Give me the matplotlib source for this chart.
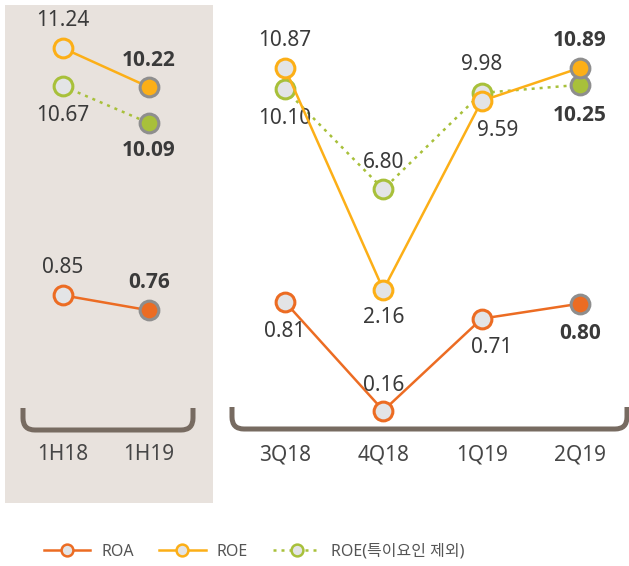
import matplotlib
matplotlib.use('Agg')
import matplotlib.pyplot as plt
import matplotlib.transforms as mtransforms
from matplotlib.path import Path
from matplotlib.patches import PathPatch, Rectangle
from matplotlib.lines import Line2D
from matplotlib import font_manager as fm

# ---------------- data ----------------
half_labels = ['1H18', '1H19']
half_roa = [0.85, 0.76]
half_roe = [11.24, 10.22]
half_roe_ex = [10.67, 10.09]

q_labels = ['3Q18', '4Q18', '1Q19', '2Q19']
q_roa = [0.81, 0.16, 0.71, 0.80]
q_roe = [10.87, 2.16, 9.59, 10.89]
q_roe_ex = [10.10, 6.80, 9.98, 10.25]

legend_labels = ['ROA', 'ROE', 'ROE(특이요인 제외)']

# ---------------- style ----------------
C_ROA = '#EC6C23'
C_ROE = '#FCAF17'
C_EX = '#A8C03A'
FILL = '#E3E4E6'
HL_EDGE = '#8E8E8E'
BG = '#E8E2DD'
BRACKET = '#776B61'
TXT = '#3A3A3A'
DOT = (0, (1.2, 2.0))

W, H = 629, 566
fig = plt.figure(figsize=(W / 100, H / 100), dpi=100)
px = mtransforms.Affine2D().scale(1 / W, -1 / H).translate(0, 1) + fig.transFigure

FONT = ['Noto Sans', 'Noto Sans CJK KR', 'DejaVu Sans']


def has_bold(fam):
    for f in fm.fontManager.ttflist:
        if f.name == fam and (f.weight in ('bold', 'semibold') or
                              (isinstance(f.weight, int) and f.weight >= 600)):
            return True
    return False


BOLD_FONT = FONT
for cand in ['Noto Sans', 'Open Sans', 'Lato', 'Roboto', 'DejaVu Sans']:
    if has_bold(cand):
        BOLD_FONT = [cand, 'DejaVu Sans']
        break

# background of the half-year panel
fig.add_artist(Rectangle((5, 5), 208, 498, transform=px, fc=BG, ec='none', zorder=-5))


def make_ax(xlim, ylim):
    ax = fig.add_axes([0, 0, 1, 1])
    ax.set_xlim(*xlim)
    ax.set_ylim(*ylim)
    ax.axis('off')
    ax.patch.set_alpha(0)
    return ax


def series(ax, vals, color, ls, offsets):
    x = list(range(len(vals)))
    ax.plot(x, vals, color=color, lw=1.8, ls=ls, zorder=2, clip_on=False)
    ax.plot(x[:-1], vals[:-1], 'o', ms=13.5, mfc=FILL, mec=color, mew=2.2,
            zorder=3, clip_on=False)
    ax.plot(x[-1:], vals[-1:], 'o', ms=13.5, mfc=color, mec=HL_EDGE, mew=2.2,
            zorder=3, clip_on=False)
    n = len(vals)
    for i, v in enumerate(vals):
        last = i == n - 1
        ax.annotate(f'{v:.2f}', (i, v), xytext=offsets[i], textcoords='offset pixels',
                    ha='center', va='center', fontsize=15, color=TXT,
                    family=BOLD_FONT if last else FONT,
                    weight='bold' if last else 'normal')


HALF_X = (-0.7326, 6.581)
Q_X = (-2.898, 3.498)
ROA_Y = (-0.770, 2.617)

# half-year panel
ax_h_roa = make_ax(HALF_X, ROA_Y)
ax_h_ex = make_ax(HALF_X, (3.145, 12.02))
ax_h_roe = make_ax(HALF_X, (-2.31, 12.50))
series(ax_h_roa, half_roa, C_ROA, '-', [(0, 28), (0, 28)])
series(ax_h_ex, half_roe_ex, C_EX, DOT, [(0, -29), (0, -27)])
series(ax_h_roe, half_roe, C_ROE, '-', [(0, 28), (0, 27)])

# quarterly panel
ax_q_roa = make_ax(Q_X, ROA_Y)
ax_q_ex = make_ax(Q_X, (-5.64, 13.05))
ax_q_roe = make_ax(Q_X, (-8.71, 13.56))
series(ax_q_roa, q_roa, C_ROA, '-', [(0, -30), (0, 25), (10, -29), (0, -30)])
series(ax_q_ex, q_roe_ex, C_EX, DOT, [(0, -29), (0, 27), (0, 28), (0, -31)])
series(ax_q_roe, q_roe, C_ROE, '-', [(0, 28), (0, -28), (16, -30), (0, 27)])

# category labels
for ax, labels in [(ax_h_roa, half_labels), (ax_q_roa, q_labels)]:
    tr = mtransforms.blended_transform_factory(ax.transData, fig.transFigure)
    for i, lab in enumerate(labels):
        ax.text(i, 1 - 455 / H, lab, transform=tr, ha='center', va='center',
                fontsize=15, color='#474747', family=FONT)


# brackets
def bracket(x0, x1, ytop, ybot, r):
    verts = [(x0, ytop), (x0, ybot - r), (x0, ybot), (x0 + r, ybot),
             (x1 - r, ybot), (x1, ybot), (x1, ybot - r), (x1, ytop)]
    codes = [Path.MOVETO, Path.LINETO, Path.CURVE3, Path.CURVE3,
             Path.LINETO, Path.CURVE3, Path.CURVE3, Path.LINETO]
    fig.add_artist(PathPatch(Path(verts, codes), transform=px, fill=False,
                             lw=3.6, ec=BRACKET, capstyle='butt', joinstyle='round'))


bracket(23, 193, 408, 430, 12)
bracket(232, 627, 407, 429, 12)

# legend
handles = [
    Line2D([], [], color=C_ROA, lw=1.8, marker='o', ms=8.5, mfc=FILL, mec=C_ROA, mew=1.8),
    Line2D([], [], color=C_ROE, lw=1.8, marker='o', ms=8.5, mfc=FILL, mec=C_ROE, mew=1.8),
    Line2D([], [], color=C_EX, lw=1.8, ls=DOT, marker='o', ms=8.5, mfc=FILL, mec=C_EX, mew=1.8),
]
leg = fig.legend(handles, legend_labels, loc='center',
                 bbox_to_anchor=(254 / W, 1 - 552 / H), ncol=3, frameon=False,
                 handlelength=2.9, handletextpad=0.7, columnspacing=1.6,
                 prop={'family': FONT, 'size': 11.5})
for t in leg.get_texts():
    t.set_color('#555555')

fig.savefig('out.png', dpi=100, facecolor='white')
